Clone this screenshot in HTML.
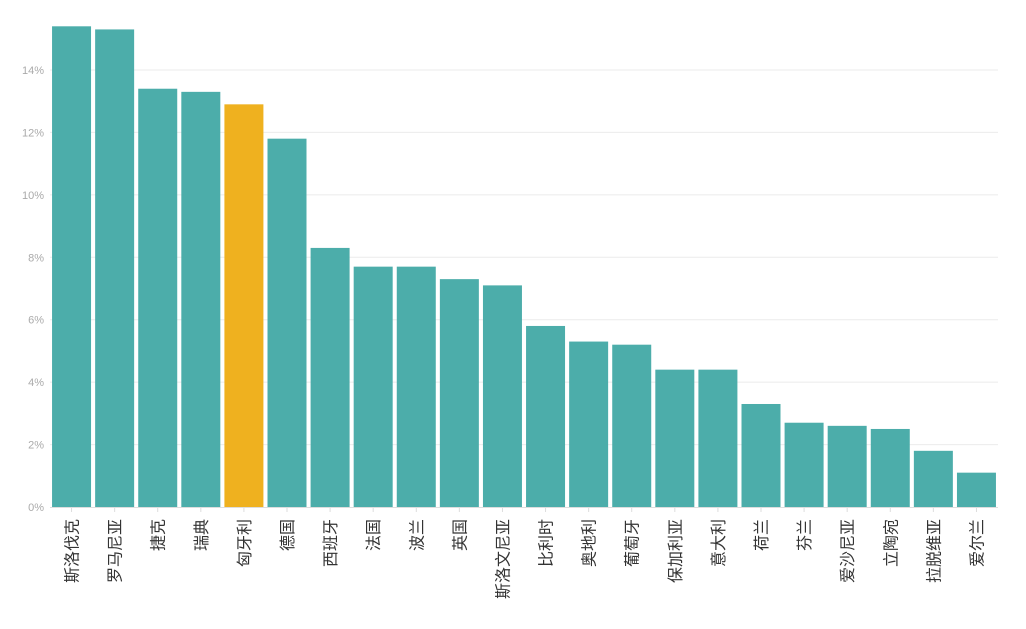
<!DOCTYPE html>
<html><head><meta charset="utf-8"><style>
body{margin:0;background:#fff;}
svg text{font-family:"Liberation Sans","Noto Sans CJK SC",sans-serif;}
</style></head><body>
<svg id="chart" width="1026" height="624" xmlns="http://www.w3.org/2000/svg"></svg>
<script>
const categories=["斯洛伐克","罗马尼亚","捷克","瑞典","匈牙利","德国","西班牙","法国","波兰","英国","斯洛文尼亚","比利时","奥地利","葡萄牙","保加利亚","意大利","荷兰","芬兰","爱沙尼亚","立陶宛","拉脱维亚","爱尔兰"];
const values=[15.4,15.3,13.4,13.3,12.9,11.8,8.3,7.7,7.7,7.3,7.1,5.8,5.3,5.2,4.4,4.4,3.3,2.7,2.6,2.5,1.8,1.1];
const highlight=["匈牙利"];
const yTicks=[0,2,4,6,8,10,12,14];
const yTickLabels=["0%","2%","4%","6%","8%","10%","12%","14%"];
const svg=document.getElementById('chart');
const NS="http://www.w3.org/2000/svg";
const x0=50,x1=998,y0=507,pxPer=437/14;
const step=(x1-x0)/categories.length;
const y=v=>y0-v*pxPer;
const xc=i=>x0+step*(i+0.5);
function mk(t,a){const e=document.createElementNS(NS,t);for(const k in a)e.setAttribute(k,a[k]);svg.appendChild(e);return e;}
yTicks.forEach((t,i)=>{
  if(t>0){const g=mk('line',{x1:x0,x2:x1,y1:y(t),y2:y(t),stroke:'#ebebeb','stroke-width':1});
  
  }
  const l=mk('text',{x:44,y:y(t)+4,'text-anchor':'end','font-size':11,fill:'#aaa'});
  l.textContent=yTickLabels[i];
  
  
});
const ax=mk('line',{x1:x0,x2:x1,y1:y0+0.5,y2:y0+0.5,stroke:'#ddd'});


categories.forEach((c,i)=>{
  const w=39;
  const r=mk('rect',{x:xc(i)-w/2,y:y(values[i]),width:w,height:y0-y(values[i]),fill:highlight.includes(c)?'#efb11f':'#4cadaa'});
  
  
  const tk=mk('line',{x1:xc(i),x2:xc(i),y1:y0,y2:y0+5,stroke:'#ddd'});
  
  
  const t=mk('text',{x:0,y:0,'text-anchor':'end','font-size':16,fill:'#333',transform:`translate(${xc(i)+6},519) rotate(-90)`});
  t.textContent=c;
  
  
});
</script>
</body></html>
